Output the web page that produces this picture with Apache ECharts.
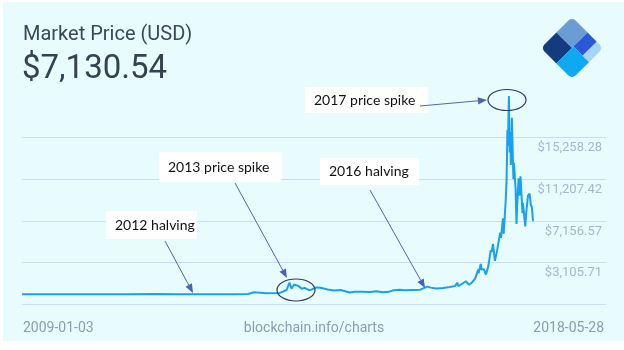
<!DOCTYPE html>
<html>
<head>
<meta charset="utf-8">
<script src="https://cdn.jsdelivr.net/npm/echarts@6/dist/echarts.min.js"></script>
<style>
  html, body { margin: 0; padding: 0; background: #ffffff; }
  #panel { position: absolute; left: 3px; top: 2px; width: 621px; height: 339px; background: #e8fcfd; }
  #chart { position: absolute; left: 0; top: 0; width: 624px; height: 350px; }
</style>
</head>
<body>
<div id="panel"></div>
<div id="chart"></div>
<script>
// Bitcoin market price, USD
const dates = [
  '2009-01-03', '2010-01-01', '2010-07-17', '2011-01-01', '2011-06-08', '2011-12-01',
  '2012-06-01', '2012-11-28', '2013-03-01', '2013-04-10', '2013-07-01', '2013-10-01',
  '2013-11-15', '2013-12-04', '2013-12-18', '2014-01-05', '2014-02-01', '2014-02-25',
  '2014-03-15', '2014-04-11', '2014-05-01', '2014-06-03', '2014-07-01', '2014-08-18',
  '2014-10-01', '2014-11-12', '2015-01-14', '2015-02-15', '2015-04-01', '2015-06-01',
  '2015-07-10', '2015-08-25', '2015-10-01', '2015-11-04', '2015-12-15', '2016-01-15',
  '2016-03-01', '2016-05-01', '2016-06-17', '2016-07-09', '2016-08-15', '2016-10-01',
  '2016-11-15', '2016-12-20', '2017-01-04', '2017-01-12', '2017-02-01', '2017-03-03',
  '2017-03-24', '2017-04-15', '2017-05-05', '2017-05-25', '2017-05-27', '2017-06-11',
  '2017-06-16', '2017-07-01', '2017-07-16', '2017-08-01', '2017-08-17', '2017-08-23',
  '2017-09-01', '2017-09-14', '2017-09-30', '2017-10-12', '2017-10-20', '2017-10-25',
  '2017-11-07', '2017-11-12', '2017-11-26', '2017-12-01', '2017-12-07', '2017-12-10',
  '2017-12-17', '2017-12-22', '2017-12-27', '2017-12-30', '2018-01-06', '2018-01-16',
  '2018-01-20', '2018-01-31', '2018-02-06', '2018-02-10', '2018-02-20', '2018-02-25',
  '2018-03-05', '2018-03-18', '2018-03-21', '2018-04-06', '2018-04-12', '2018-04-24',
  '2018-05-05', '2018-05-13', '2018-05-20', '2018-05-28'
];
const prices = [
  0, 0, 0.05, 0.3, 30, 3,
  5, 12, 35, 200, 90, 130,
  420, 1150, 550, 950, 820, 540,
  630, 420, 450, 670, 640, 470,
  380, 420, 180, 250, 245, 225,
  290, 210, 240, 400, 450, 390,
  430, 450, 750, 650, 570, 610,
  710, 800, 1130, 780, 980, 1270,
  930, 1180, 1550, 2400, 2050, 2950,
  2400, 2450, 1920, 2750, 4300, 4100,
  4900, 3250, 4350, 5400, 6000, 5500,
  7400, 5900, 9300, 10900, 16000, 14500,
  19300, 13800, 15800, 12600, 17200, 11200,
  12800, 10200, 6850, 8500, 11300, 9600,
  11500, 7900, 8900, 6600, 7900, 9600,
  9800, 8700, 8500, 7130.54
];

// Right-hand axis: first gridline sits below zero, labels step by a fixed amount
const yMin = -945.145;
const yStep = 4050.855;
const yTickLabels = ['$3,105.71', '$7,156.57', '$11,207.42', '$15,258.28'];

// Header and footer text
const chartTitle = 'Market Price (USD)';
const latestPrice = '$7,130.54';
const startLabel = '2009-01-03';
const endLabel = '2018-05-28';
const sourceLabel = 'blockchain.info/charts';
const axisEnd = '2019-09-30';

// Call-outs: white label box, arrow and optional ring
const callouts = [
  { text: '2012 halving',     box: [106, 211, 91, 28],  from: [165, 241], to: [193, 293] },
  { text: '2013 price spike', box: [159, 152, 123, 30], from: [235, 183], to: [287, 278], ring: [296, 290, 19, 11] },
  { text: '2016 halving',     box: [320, 158, 99, 27],  from: [370, 190], to: [425, 288] },
  { text: '2017 price spike', box: [305, 87, 123, 26],  from: [420, 106], to: [487, 100], ring: [507, 100, 19, 10.5] }
];

const seriesData = dates.map((d, i) => [d, prices[i]]);

const chart = echarts.init(document.getElementById('chart'), null, { renderer: 'canvas' });

function arrowHead(from, to, len, half) {
  const dx = to[0] - from[0], dy = to[1] - from[1];
  const L = Math.sqrt(dx * dx + dy * dy);
  const ux = dx / L, uy = dy / L;
  const bx = to[0] - ux * len, by = to[1] - uy * len;
  return [[to[0], to[1]], [bx - uy * half, by + ux * half], [bx + uy * half, by - ux * half]];
}

const calloutGraphics = [];
callouts.forEach(c => {
  calloutGraphics.push({
    type: 'rect', z: 10,
    shape: { x: c.box[0], y: c.box[1], width: c.box[2], height: c.box[3] },
    style: { fill: '#ffffff' }
  });
  calloutGraphics.push({
    type: 'text', z: 11,
    x: c.box[0] + 9, y: c.box[1] + c.box[3] / 2,
    style: { text: c.text, font: '14px Lato', fill: '#111111', verticalAlign: 'middle', align: 'left' }
  });
  const head = arrowHead(c.from, c.to, 9, 3.6);
  calloutGraphics.push({
    type: 'line', z: 10,
    shape: { x1: c.from[0], y1: c.from[1], x2: (head[1][0] + head[2][0]) / 2, y2: (head[1][1] + head[2][1]) / 2 },
    style: { stroke: '#5065a8', lineWidth: 1 }
  });
  calloutGraphics.push({
    type: 'polygon', z: 10,
    shape: { points: head },
    style: { fill: '#4a62b4' }
  });
  if (c.ring) {
    calloutGraphics.push({
      type: 'ellipse', z: 10,
      shape: { cx: c.ring[0], cy: c.ring[1], rx: c.ring[2], ry: c.ring[3] },
      style: { fill: 'none', stroke: '#2c3a62', lineWidth: 1.2 }
    });
  }
});

// Logo: rotated square split into coloured blocks
const logo = {
  type: 'group', x: 572, y: 48, rotation: -Math.PI / 4,
  children: [
    { type: 'rect', shape: { x: -22, y: -22, width: 22, height: 22, r: [5, 0, 0, 0] }, style: { fill: '#6c9cd4' } },
    { type: 'rect', shape: { x: -22, y: 0, width: 22, height: 22, r: [0, 0, 0, 5] }, style: { fill: '#143b7d' } },
    { type: 'rect', shape: { x: 0, y: -22, width: 13, height: 20 }, style: { fill: '#2b58d6' } },
    { type: 'rect', shape: { x: 13, y: -22, width: 9, height: 20, r: [0, 5, 0, 0] }, style: { fill: '#a7d3f7' } },
    { type: 'rect', shape: { x: 0, y: -2, width: 22, height: 24, r: [0, 0, 5, 0] }, style: { fill: '#0fa8f2' } }
  ]
};

const option = {
  backgroundColor: 'transparent',
  animation: false,
  grid: { left: 22, right: 18, top: 96, bottom: 46 },
  xAxis: {
    type: 'time',
    min: dates[0],
    max: axisEnd,
    axisLine: { show: false },
    axisTick: { show: false },
    axisLabel: { show: false },
    splitLine: { show: false }
  },
  yAxis: {
    type: 'value',
    position: 'right',
    min: yMin,
    max: yMin + 5 * yStep,
    interval: yStep,
    axisLine: { show: false },
    axisTick: { show: false },
    splitLine: { show: true, showMaxLine: false, lineStyle: { color: '#cadff1', width: 1 } },
    axisLabel: {
      inside: true,
      margin: 4,
      verticalAlign: 'top',
      padding: [4, 0, 0, 0],
      color: '#a9b7cd',
      fontFamily: 'Roboto',
      fontSize: 13,
      formatter: (v, i) => yTickLabels[i - 1] || ''
    }
  },
  series: [{
    type: 'line',
    data: seriesData,
    showSymbol: false,
    lineStyle: { color: '#18a2ee', width: 2 },
    itemStyle: { color: '#18a2ee' }
  }],
  graphic: [
    { type: 'text', x: 23, y: 35, style: { text: chartTitle, font: '20px Roboto', fill: '#3c4858', verticalAlign: 'middle' } },
    { type: 'text', x: 22, y: 70, style: { text: latestPrice, font: '33px Roboto', fill: '#36424f', verticalAlign: 'middle' } },
    { type: 'text', x: 23, y: 328, style: { text: startLabel, font: '14px Roboto', fill: '#8f9bb0', verticalAlign: 'middle' } },
    { type: 'text', x: 314, y: 328, style: { text: sourceLabel, font: '14px Roboto', fill: '#8f9bb0', verticalAlign: 'middle', align: 'center' } },
    { type: 'text', x: 604, y: 328, style: { text: endLabel, font: '14px Roboto', fill: '#8f9bb0', verticalAlign: 'middle', align: 'right' } },
    logo
  ].concat(calloutGraphics)
};

chart.setOption(option);
</script>
</body>
</html>
